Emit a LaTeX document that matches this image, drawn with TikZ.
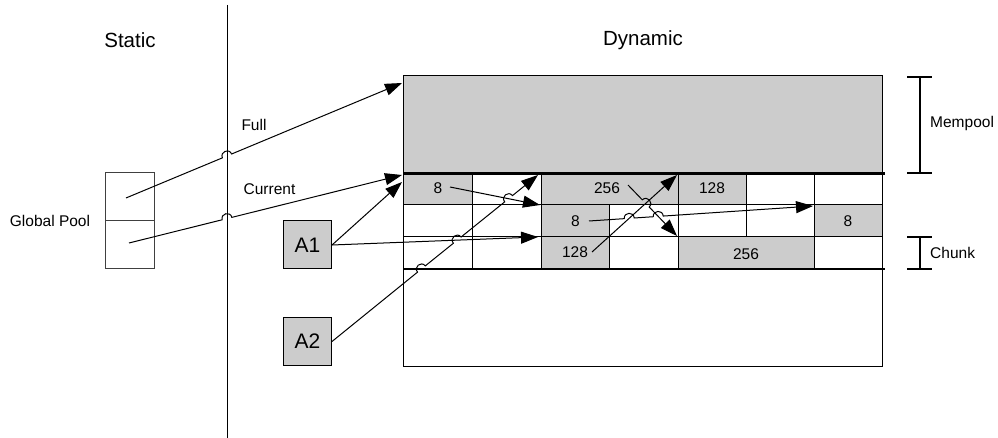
\documentclass[tikz,border=0pt]{standalone}
\usepackage{fontspec}
\setmainfont{Liberation Sans}
\usetikzlibrary{arrows.meta,calc}
\definecolor{cellgray}{HTML}{CCCCCC}
\tikzset{
  lbl/.style={font=\fontsize{15.5}{17}\selectfont, inner sep=0pt},
  ttl/.style={font=\fontsize{20.5}{22}\selectfont, inner sep=0pt},
  gcell/.style={draw, fill=cellgray, line width=1pt},
  wcell/.style={draw, line width=1pt},
  abox/.style={draw, fill=cellgray, line width=1pt, minimum width=48pt, minimum height=48pt, inner sep=0pt, font=\fontsize{21}{23}\selectfont},
  gpcell/.style={draw=black!75, line width=1pt, minimum width=48.5pt, minimum height=48pt, inner sep=0pt},
  arr/.style={line width=1pt, -{Triangle[length=17pt,width=12pt]}},
  conn/.style={line width=1pt},
  thick line/.style={line width=2.5pt},
  bracket/.style={line width=1.5pt},
  hopat/.style={insert path={-- (#1a) .. controls ($(#1a)!0.667!90:(#1b)$) and ($(#1b)!0.667!-90:(#1a)$) .. (#1b)}},
}
\newcommand\mkhop[3]{%
  \coordinate (#1a) at ($(#1)!5pt!(#2)$);
  \coordinate (#1b) at ($(#1)!5pt!(#3)$);}
\begin{document}
\begin{tikzpicture}[x=1pt,y=-1pt]
\useasboundingbox (0,0) rectangle (998,438);

% titles
\node[ttl] (static) at (130,40) {Static};
\node[ttl] (dynamic) at (643,40) {Dynamic};

% divider
\coordinate (divT) at (227,5);
\coordinate (divB) at (227,438);
\draw[conn] (divT) -- (divB);

% global pool
\node[gpcell] (gp1) at (129.75,197) {};
\node[gpcell] (gp2) at (129.75,245) {};
\node[lbl] (gplabel) at (50,221) {Global Pool};

% memory area
\draw[line width=1pt, fill=cellgray] (403,76) rectangle (882,173.5);
% row 1
\draw[gcell] (403,173.5) rectangle (472,205);
\draw[wcell] (472,173.5) rectangle (541,205);
\draw[gcell] (541,173.5) rectangle (678,205);
\draw[gcell] (678,173.5) rectangle (746,205);
\draw[wcell] (746,173.5) rectangle (814,205);
\draw[wcell] (814,173.5) rectangle (882,205);
% row 2
\draw[wcell] (403,205) rectangle (472,237);
\draw[wcell] (472,205) rectangle (541,237);
\draw[gcell] (541,205) rectangle (609,237);
\draw[wcell] (609,205) rectangle (678,237);
\draw[wcell] (678,205) rectangle (746,237);
\draw[wcell] (746,205) rectangle (814,237);
\draw[gcell] (814,205) rectangle (882,237);
% row 3
\draw[wcell] (403,237) rectangle (472,269);
\draw[wcell] (472,237) rectangle (541,269);
\draw[gcell] (541,237) rectangle (609,269);
\draw[wcell] (609,237) rectangle (678,269);
\draw[gcell] (678,237) rectangle (814,269);
\draw[wcell] (814,237) rectangle (882,269);
% outer
\draw[line width=1pt] (403,76) rectangle (882,366);
\coordinate (tl1) at (403,173.5);
\coordinate (tr1) at (885,173.5);
\coordinate (tl2) at (403,269);
\coordinate (tr2) at (885,269);
\draw[thick line] (tl1) -- (tr1);
\draw[thick line] (tl2) -- (tr2);

% cell texts
\node[lbl] (n8a) at (438,188) {8};
\node[lbl] (n256a) at (607,188) {256};
\node[lbl] (n128a) at (712,188) {128};
\node[lbl] (n8b) at (575.5,221) {8};
\node[lbl] (n8c) at (848,221) {8};
\node[lbl] (n128b) at (575,252.5) {128};
\node[lbl] (n256b) at (746,254) {256};

% brackets
\draw[bracket] (907,77) -- (932,77) (920,77) -- (920,173) (907,173) -- (932,173);
\draw[bracket] (907,237) -- (932,237) (920,237) -- (920,269) (907,269) -- (932,269);
\node[lbl, anchor=west] (mem) at (930,123) {Mempool};
\node[lbl, anchor=west] (chunk) at (930,253) {Chunk};

% A boxes
\node[abox] (A1) at (307.5,245) {A1};
\node[abox] (A2) at (307.5,341.5) {A2};

% Full / Current
\node[lbl] (full) at (254,125) {Full};
\node[lbl] (current) at (269.5,189) {Current};
\coordinate (fS) at (126,198);
\coordinate (fE) at (402,83);
\coordinate (hF) at (intersection of fS--fE and divT--divB);
\mkhop{hF}{fS}{fE}
\draw[arr] (fS) [hopat=hF] -- (fE);

\coordinate (cS) at (129,243);
\coordinate (cE) at (402,175);
\coordinate (hC) at (intersection of cS--cE and divT--divB);
\mkhop{hC}{cS}{cE}
\draw[arr] (cS) [hopat=hC] -- (cE);

% A1 arrows
\coordinate (a1S) at (331.5,245);
\coordinate (a1E1) at (402,182);
\coordinate (a1E2) at (538,237);
\draw[arr] (A1.east) -- (a1E1);
\draw[arr] (A1.east) -- (a1E2);

% in-chunk arrows
\coordinate (e8S) at (450,187);
\coordinate (e8E) at (540,205);
\draw[arr] (e8S) -- (e8E);

\coordinate (e128S) at (592,252);
\coordinate (e128E) at (677,175);
\draw[arr] (e128S) -- (e128E);

\coordinate (e256S) at (628,185);
\coordinate (e256E) at (677,236);
\coordinate (h256) at (intersection of e256S--e256E and e128S--e128E);
\mkhop{h256}{e256S}{e256E}
\draw[arr] (e256S) [hopat=h256] -- (e256E);

\coordinate (f8S) at (589,221);
\coordinate (f8E) at (813,206);
\coordinate (h8a) at (intersection of f8S--f8E and e128S--e128E);
\coordinate (h8b) at (intersection of f8S--f8E and e256S--e256E);
\mkhop{h8a}{f8S}{f8E}
\mkhop{h8b}{f8S}{f8E}
\draw[arr] (f8S) [hopat=h8a] [hopat=h8b] -- (f8E);

% A2 arrow
\coordinate (a2S) at (331.5,341.5);
\coordinate (a2E) at (538,175);
\coordinate (hA) at (intersection of a2S--a2E and tl2--tr2);
\coordinate (hB) at (intersection of a2S--a2E and a1S--a1E2);
\coordinate (hD) at (intersection of a2S--a2E and e8S--e8E);
\mkhop{hA}{a2S}{a2E}
\mkhop{hB}{a2S}{a2E}
\mkhop{hD}{a2S}{a2E}
\draw[arr] (A2.east) [hopat=hA] [hopat=hB] [hopat=hD] -- (a2E);
\end{tikzpicture}
\end{document}
